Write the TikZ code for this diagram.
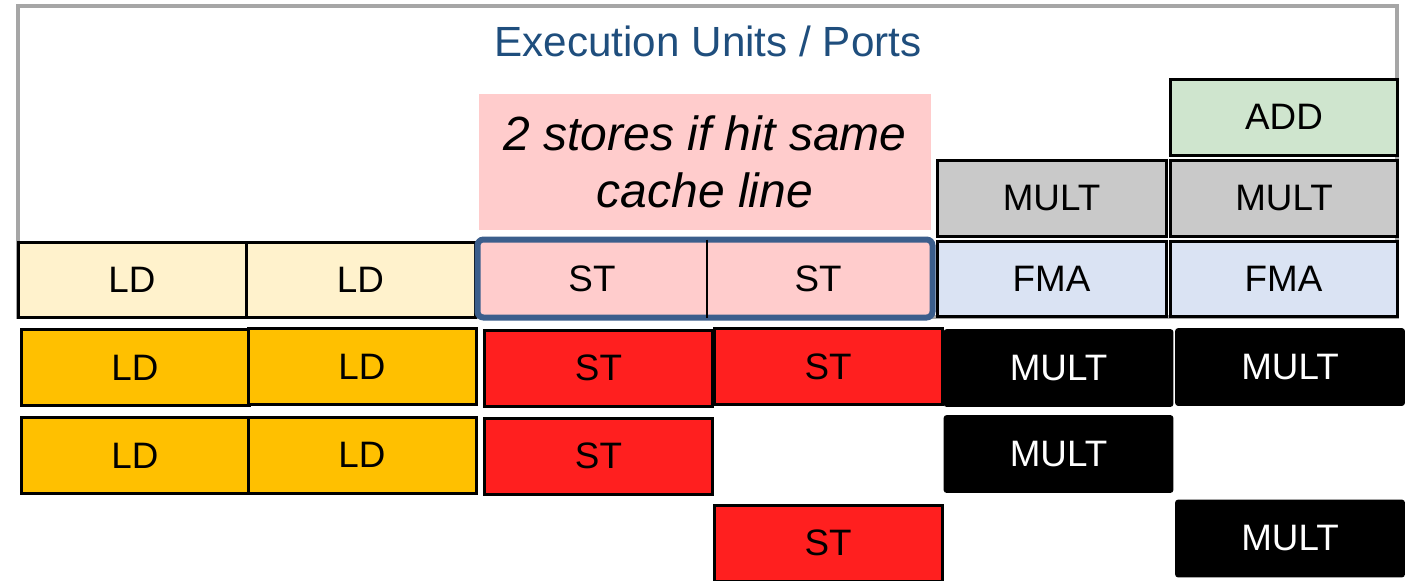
\documentclass[tikz,border=0pt]{standalone}
\usepackage{fontspec}
\setmainfont{Liberation Sans}
\usetikzlibrary{fit}

\definecolor{framegray}{HTML}{A6A6A6}
\definecolor{titleblue}{RGB}{31,78,125}
\definecolor{notepink}{HTML}{FFCCCC}
\definecolor{ldlight}{HTML}{FFF2CC}
\definecolor{fmablue}{HTML}{DAE3F3}
\definecolor{multgray}{HTML}{C9C9C9}
\definecolor{addgreen}{RGB}{207,229,206}
\definecolor{ldorange}{HTML}{FFC000}
\definecolor{stred}{HTML}{FF1F1F}
\definecolor{portblue}{RGB}{59,94,140}

\tikzset{
  unit/.style={draw=black, line width=1.5pt, minimum width=114pt, minimum height=37.5pt,
    inner sep=0pt, font=\fontsize{18.4}{21}\selectfont},
  ldport/.style={unit, fill=ldlight},
  stport/.style={unit, draw=none, fill=notepink, minimum width=113pt},
  fmaport/.style={unit, fill=fmablue},
  multport/.style={unit, fill=multgray, minimum height=38pt},
  addport/.style={unit, fill=addgreen, minimum height=38pt},
  ldbusy/.style={unit, fill=ldorange, minimum height=38pt},
  stbusy/.style={unit, fill=stred, minimum height=38pt},
  multbusy/.style={unit, fill=black, text=white, rounded corners=1pt, line width=0.8pt, minimum height=38pt},
}

\begin{document}
\begin{tikzpicture}[x=0.5pt, y=-0.5pt]
    \useasboundingbox (0,0) rectangle (1412,580);

    % Marco de las unidades
    \node[draw=framegray, line width=2pt, minimum width=689.5pt, minimum height=155.5pt] (frame) at (707.5,161.5) {};
    \node[anchor=base, text=titleblue, font=\fontsize{21.1}{25}\selectfont] (title) at (708,56) {Execution Units / Ports};

    % Nota sobre los stores
    \node[fill=notepink, minimum width=226pt, minimum height=68pt, align=center,
      font=\fontsize{24}{28.5}\selectfont\itshape] (note) at (705,162) {2 stores if hit same\\cache line};

    % Puertos
    \node[ldport, minimum width=114pt] (ld-a) at (132,279.5) {LD};
    \node[ldport, minimum width=114.5pt] (ld-b) at (360.5,279.5) {LD};
    \node[stport, minimum height=37.5pt] (st-a) at (592,278.5) {ST};
    \node[stport, minimum height=37.5pt] (st-b) at (818,278.5) {ST};
    \node[fit=(st-a)(st-b), inner sep=0pt, draw=portblue, line width=3pt, rounded corners=3pt] (st-pair) {};
    \draw[line width=1pt] (st-a.north east) -- (st-a.south east);
    \node[fmaport, minimum width=114.5pt] (fma-a) at (1051.5,278.5) {FMA};
    \node[fmaport, minimum width=113.5pt] (fma-b) at (1283.5,278.5) {FMA};
    \node[multport, minimum width=114.5pt] (mult-a) at (1051.5,198.5) {MULT};
    \node[multport, minimum width=113.5pt] (mult-b) at (1284,198.5) {MULT};
    \node[addport, minimum width=113.5pt] (add) at (1284,117) {ADD};

    % Ocupacion por ciclo
    \foreach \nombre/\x/\y in {ld-1-1/135/367.5, ld-1-2/362/366.5, ld-2-1/135/455.5, ld-2-2/362/455}
        \node[ldbusy] (\nombre) at (\x,\y) {LD};
    \foreach \nombre/\x/\y in {st-1-1/598.5/368, st-1-2/828/366.5, st-2-1/598.5/456, st-3-2/828/543}
        \node[stbusy] (\nombre) at (\x,\y) {ST};
    \foreach \nombre/\x/\y in {mult-1-1/1058.5/368, mult-1-2/1290/367, mult-2-1/1058.5/454, mult-3-2/1290/538.5}
        \node[multbusy] (\nombre) at (\x,\y) {MULT};
\end{tikzpicture}
\end{document}
